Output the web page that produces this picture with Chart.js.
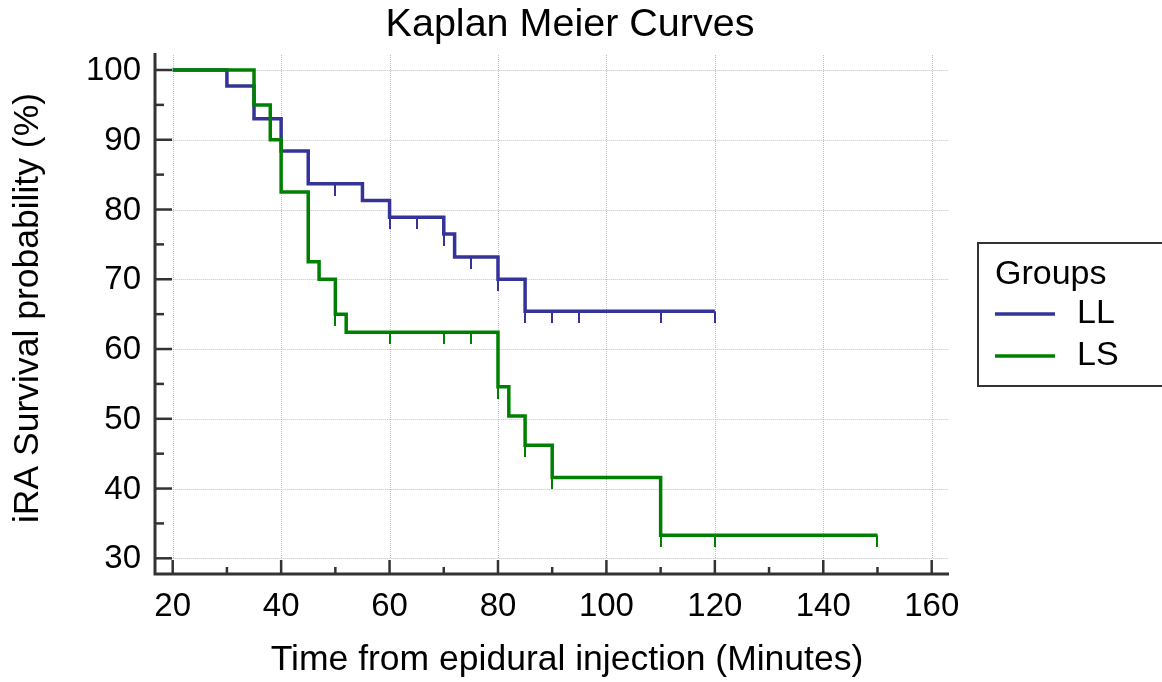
<!DOCTYPE html>
<html>
<head>
<meta charset="utf-8">
<script src="https://cdn.jsdelivr.net/npm/chart.js@4.4.1/dist/chart.umd.min.js"></script>
<style>
  html, body { margin: 0; padding: 0; background: #ffffff; }
  #wrap { width: 1162px; height: 682px; }
</style>
</head>
<body>
<div id="wrap"><canvas id="c" width="1162" height="682"></canvas></div>
<script>
// ---- Data ----
const chartTitle = "Kaplan Meier Curves";
const xAxisTitle = "Time from epidural injection (Minutes)";
const yAxisTitle = "iRA Survival probability (%)";
const legendTitle = "Groups";
const groupNames = ["LL", "LS"];

// LL group: step times and survival (%) after each step
const llTimes    = [20, 30, 35, 40, 45, 55, 60, 70, 72, 80, 85, 120];
const llSurvival = [100, 97.7, 93.0, 88.4, 83.7, 81.3, 78.9, 76.5, 73.2, 70.0, 65.4, 65.4];
// LL censored observations
const llCensorTimes    = [50, 60, 65, 70, 75, 80, 85, 90, 95, 110, 120];
const llCensorSurvival = [83.7, 78.9, 78.9, 76.5, 73.2, 70.0, 65.4, 65.4, 65.4, 65.4, 65.4];

// LS group
const lsTimes    = [20, 35, 38, 40, 45, 47, 50, 52, 80, 82, 85, 90, 110, 150];
const lsSurvival = [100, 95.0, 90.0, 82.5, 72.5, 70.0, 65.0, 62.4, 54.6, 50.4, 46.2, 41.6, 33.3, 33.3];
const lsCensorTimes    = [50, 60, 70, 75, 80, 85, 90, 110, 120, 150];
const lsCensorSurvival = [65.0, 62.4, 62.4, 62.4, 54.6, 46.2, 41.6, 33.3, 33.3, 33.3];

// Axis ticks
const xTicks = [20, 40, 60, 80, 100, 120, 140, 160];
const xMinorTicks = [30, 50, 70, 90, 110, 130, 150];
const yTicks = [30, 40, 50, 60, 70, 80, 90, 100];
const yMinorTicks = [35, 45, 55, 65, 75, 85, 95];

// ---- Styles ----
const colLL = "#333399";
const colLS = "#008000";
const FONT = '"Liberation Sans", Arial, Helvetica, sans-serif';

function toPoints(xs, ys) { return xs.map((x, i) => ({ x: x, y: ys[i] })); }

function censorMark(color) {
  const c = document.createElement("canvas");
  c.width = 2; c.height = 24;
  const g = c.getContext("2d");
  g.fillStyle = color;
  g.fillRect(0, 12, 2, 12);
  return c;
}

const framePlugin = {
  id: "frame",
  beforeDatasetsDraw(chart) {
    const ctx = chart.ctx, xs = chart.scales.x, ys = chart.scales.y, a = chart.chartArea;
    ctx.save();
    ctx.strokeStyle = "#c0c0c0";
    ctx.lineWidth = 1;
    ctx.setLineDash([1, 1]);
    const yBottom = ys.getPixelForValue(yTicks[0]);
    xTicks.forEach(v => {
      const px = Math.round(xs.getPixelForValue(v)) + 0.5;
      ctx.beginPath(); ctx.moveTo(px, a.top); ctx.lineTo(px, yBottom); ctx.stroke();
    });
    const xLeft = xs.getPixelForValue(xTicks[0]);
    yTicks.forEach(v => {
      const py = Math.round(ys.getPixelForValue(v)) + 0.5;
      ctx.beginPath(); ctx.moveTo(xLeft, py); ctx.lineTo(a.right, py); ctx.stroke();
    });
    ctx.restore();
  },
  afterDraw(chart) {
    const ctx = chart.ctx, xs = chart.scales.x, ys = chart.scales.y, a = chart.chartArea;
    ctx.save();
    ctx.setLineDash([]);
    ctx.strokeStyle = "#333333";
    // axis lines
    ctx.lineWidth = 3;
    ctx.beginPath();
    ctx.moveTo(a.left, a.top - 2);
    ctx.lineTo(a.left, a.bottom);
    ctx.lineTo(a.right, a.bottom);
    ctx.stroke();
    // y ticks (pointing inward)
    ctx.lineWidth = 2.5;
    yTicks.forEach(v => {
      const py = ys.getPixelForValue(v);
      ctx.beginPath(); ctx.moveTo(a.left, py); ctx.lineTo(a.left + 17, py); ctx.stroke();
    });
    yMinorTicks.forEach(v => {
      const py = ys.getPixelForValue(v);
      ctx.beginPath(); ctx.moveTo(a.left, py); ctx.lineTo(a.left + 9, py); ctx.stroke();
    });
    xTicks.forEach(v => {
      const px = xs.getPixelForValue(v);
      ctx.beginPath(); ctx.moveTo(px, a.bottom); ctx.lineTo(px, a.bottom - 14); ctx.stroke();
    });
    xMinorTicks.forEach(v => {
      const px = xs.getPixelForValue(v);
      ctx.beginPath(); ctx.moveTo(px, a.bottom); ctx.lineTo(px, a.bottom - 7); ctx.stroke();
    });
    // tick labels
    ctx.fillStyle = "#000000";
    ctx.font = "33px " + FONT;
    ctx.textAlign = "right"; ctx.textBaseline = "middle";
    yTicks.forEach(v => ctx.fillText(String(v), 141, ys.getPixelForValue(v) + 1));
    ctx.textAlign = "center";
    xTicks.forEach(v => ctx.fillText(String(v), xs.getPixelForValue(v), 607));
    // titles
    ctx.font = "39.5px " + FONT;
    ctx.fillText(chartTitle, 570, 25);
    ctx.font = "35.5px " + FONT;
    ctx.fillText(xAxisTitle, 567, 660);
    ctx.save();
    ctx.translate(28, 308);
    ctx.rotate(-Math.PI / 2);
    ctx.fillText(yAxisTitle, 0, 0);
    ctx.restore();
    // legend
    ctx.strokeStyle = "#333333";
    ctx.lineWidth = 2;
    ctx.strokeRect(978, 243, 200, 143);
    ctx.textAlign = "left";
    ctx.font = "34px " + FONT;
    ctx.fillText(legendTitle, 995, 275);
    const cols = [colLL, colLS];
    const rowsY = [314, 356];
    groupNames.forEach((n, i) => {
      ctx.strokeStyle = cols[i];
      ctx.lineWidth = 3.5;
      ctx.beginPath(); ctx.moveTo(995, rowsY[i]); ctx.lineTo(1055, rowsY[i]); ctx.stroke();
      ctx.fillText(n, 1077, rowsY[i]);
    });
    ctx.restore();
  }
};

new Chart(document.getElementById("c"), {
  type: "line",
  data: {
    datasets: [
      {
        label: groupNames[1] + " censored", type: "scatter",
        data: toPoints(lsCensorTimes, lsCensorSurvival),
        pointStyle: censorMark(colLS), pointRadius: 6, order: 0, showLine: false
      },
      {
        label: groupNames[0] + " censored", type: "scatter",
        data: toPoints(llCensorTimes, llCensorSurvival),
        pointStyle: censorMark(colLL), pointRadius: 6, order: 0, showLine: false
      },
      {
        label: groupNames[1], data: toPoints(lsTimes, lsSurvival),
        borderColor: colLS, borderWidth: 3.5, stepped: "before",
        pointRadius: 0, fill: false, order: 1, borderCapStyle: "butt", borderJoinStyle: "miter"
      },
      {
        label: groupNames[0], data: toPoints(llTimes, llSurvival),
        borderColor: colLL, borderWidth: 3.5, stepped: "before",
        pointRadius: 0, fill: false, order: 2, borderCapStyle: "butt", borderJoinStyle: "miter"
      }
    ]
  },
  options: {
    responsive: false,
    animation: false,
    events: [],
    layout: { padding: { left: 155, right: 213, top: 55, bottom: 108 } },
    plugins: { legend: { display: false }, title: { display: false }, tooltip: { enabled: false } },
    scales: {
      x: { type: "linear", min: 16.735, max: 163.19, display: false },
      y: { type: "linear", min: 27.75, max: 102.15, display: false }
    }
  },
  plugins: [framePlugin]
});
</script>
</body>
</html>
